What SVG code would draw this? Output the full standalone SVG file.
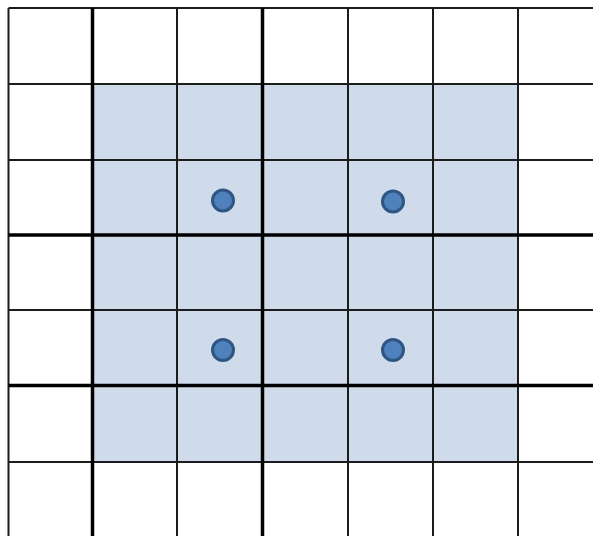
<svg xmlns="http://www.w3.org/2000/svg" width="593" height="536" viewBox="0 0 593 536">
<style>
.thin{stroke:#1c1c1c;stroke-width:2;fill:none}
.thick{stroke:#000;stroke-width:3.5;fill:none}
.dot{fill:#4f81bd;stroke:#2f5583;stroke-width:3}
</style>
<rect width="593" height="536" fill="#fff"/>
<rect id="shade" x="92.5" y="84" width="425.5" height="378" fill="#cfdbea"/>
<g id="grid">
<line class="thin" x1="8.5" y1="8" x2="8.5" y2="536"/>
<line class="thin" x1="177" y1="8" x2="177" y2="536"/>
<line class="thin" x1="348" y1="8" x2="348" y2="536"/>
<line class="thin" x1="433" y1="8" x2="433" y2="536"/>
<line class="thin" x1="518" y1="8" x2="518" y2="536"/>
<line class="thin" x1="8.5" y1="8" x2="593" y2="8"/>
<line class="thin" x1="8.5" y1="84" x2="593" y2="84"/>
<line class="thin" x1="8.5" y1="160" x2="593" y2="160"/>
<line class="thin" x1="8.5" y1="310" x2="593" y2="310"/>
<line class="thin" x1="8.5" y1="462" x2="593" y2="462"/>
<line class="thick" x1="92.5" y1="8" x2="92.5" y2="536"/>
<line class="thick" x1="262.5" y1="8" x2="262.5" y2="536"/>
<line class="thick" x1="8.5" y1="235" x2="593" y2="235"/>
<line class="thick" x1="8.5" y1="385.5" x2="593" y2="385.5"/>
</g>
<g id="dot1"><circle class="dot" cx="223" cy="200.5" r="10.5"/></g>
<g id="dot2"><circle class="dot" cx="393" cy="201.5" r="10.5"/></g>
<g id="dot3"><circle class="dot" cx="223" cy="350" r="10.5"/></g>
<g id="dot4"><circle class="dot" cx="393" cy="350" r="10.5"/></g>
</svg>
